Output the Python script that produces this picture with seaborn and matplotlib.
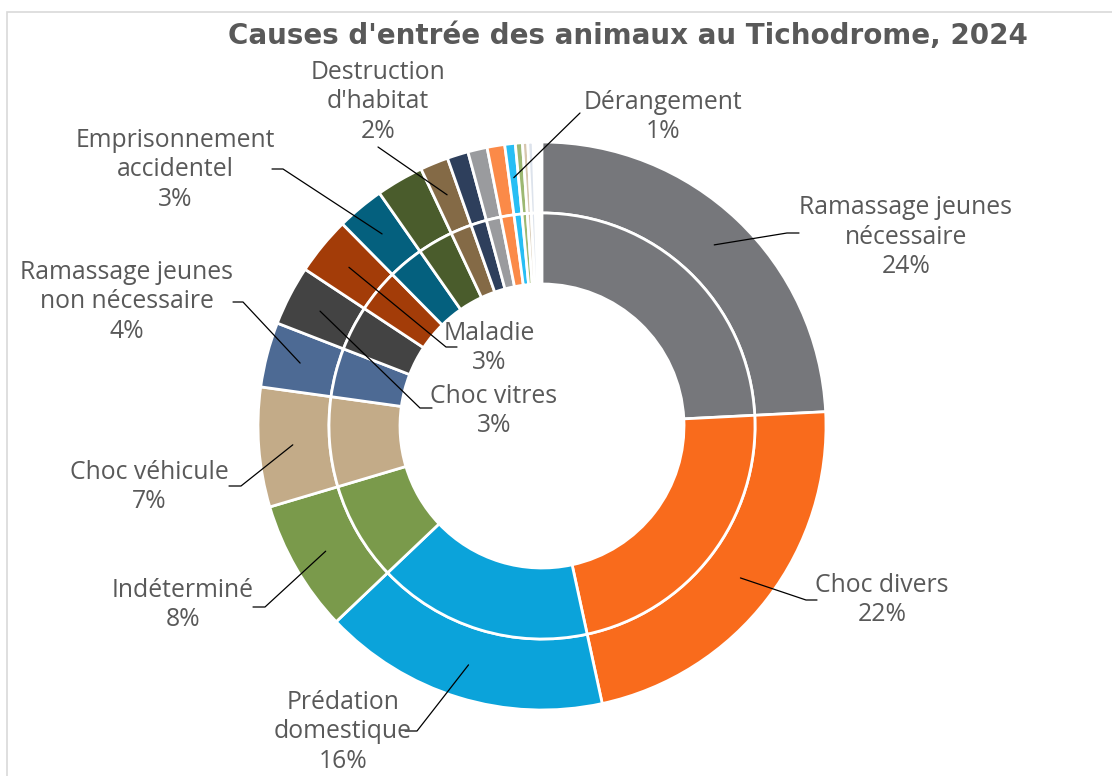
import numpy as np
import matplotlib.pyplot as plt
import seaborn as sns
from matplotlib.patches import Rectangle

# ================= data =================
causes = [
    "Ramassage jeunes\nnécessaire", "Choc divers", "Prédation\ndomestique", "Indéterminé",
    "Choc véhicule", "Ramassage jeunes\nnon nécessaire", "Choc vitres", "Maladie",
    "Emprisonnement\naccidentel", "Autre 1", "Destruction\nd'habitat", "Autre 2",
    "Autre 3", "Autre 4", "Dérangement", "Autre 5", "Autre 6", "Autre 7",
]
# part des entrées (%)
parts = [24.2, 22.4, 16.3, 7.5, 6.8, 3.7, 3.4, 3.3, 2.7, 2.7, 1.6, 1.2, 1.1, 1.0, 0.6, 0.4, 0.3, 0.3]
colors = [
    "#76777B", "#F96B1C", "#0BA3DA", "#7A9A4B", "#C3AB88", "#4D6A94",
    "#434343", "#A33C08", "#04607E", "#4A5C2C", "#846A46", "#2E3F5C",
    "#9A9B9E", "#FB8A48", "#27BEF4", "#9DB872", "#D6C6AE", "#DDE3EC",
]
labelled = ["Ramassage jeunes\nnécessaire", "Choc divers", "Prédation\ndomestique", "Indéterminé",
            "Choc véhicule", "Ramassage jeunes\nnon nécessaire", "Choc vitres", "Maladie",
            "Emprisonnement\naccidentel", "Destruction\nd'habitat", "Dérangement"]

# ================= layout (pixels) =================
W, H = 1112, 776
CX, CY, R = 542, 426, 284

# label centre, elbow of leader, end of leader
label_layout = {
    "Ramassage jeunes\nnécessaire": ((906, 237), (787, 233), (799, 233)),
    "Choc divers": ((882, 600), (806, 600), (817, 600)),
    "Prédation\ndomestique": ((343, 732), (417, 731), (405, 731)),
    "Indéterminé": ((183, 605), (265, 607), (253, 607)),
    "Choc véhicule": ((149, 487), (241, 486), (229, 486)),
    "Ramassage jeunes\nnon nécessaire": ((127, 302), (243, 302), (233, 302)),
    "Choc vitres": ((494, 411), (420, 408), (432, 408)),
    "Maladie": ((489, 348), (446, 347), (457, 347)),
    "Emprisonnement\naccidentel": ((175, 170), (283, 169), (272, 169)),
    "Destruction\nd'habitat": ((378, 102), (378, 147), (378, 147)),
    "Dérangement": ((663, 117), (580, 113), (580, 113)),
}


def to_data(p):
    return (p[0] - CX) / R, (CY - p[1]) / R


sns.set_theme(style="white")
plt.rcParams['font.family'] = ['Open Sans', 'DejaVu Sans']

fig = plt.figure(figsize=(W / 100, H / 100), dpi=100)
ax = fig.add_axes([0, 0, 1, 1])

fracs = np.array(parts) / 100
wp = dict(width=0.25, edgecolor="white", linewidth=2)
outer, _ = ax.pie(fracs, radius=1.0, colors=colors, startangle=90, counterclock=False,
                  normalize=False, wedgeprops=wp)
ax.pie(fracs, radius=0.75, colors=colors, startangle=90, counterclock=False,
       normalize=False, wedgeprops=wp)

ax.set_xlim(-CX / R, (W - CX) / R)
ax.set_ylim(-(H - CY) / R, CY / R)
ax.axis("off")

# labels + leader lines
for name, wedge, v in zip(causes, outer, parts):
    if name not in labelled:
        continue
    centre, elbow, end = label_layout[name]
    mid = np.deg2rad((wedge.theta1 + wedge.theta2) / 2)
    anchor = (0.88 * np.cos(mid), 0.88 * np.sin(mid))
    e1, e2 = to_data(elbow), to_data(end)
    ax.plot([anchor[0], e1[0], e2[0]], [anchor[1], e1[1], e2[1]], color="black", lw=0.9)
    tx, ty = to_data(centre)
    ax.text(tx, ty, f"{name}\n{round(v)}%", ha="center", va="center", fontsize=17.8,
            color="#595959", linespacing=1.22)

fig.text(628 / W, 1 - 36 / H, "Causes d'entrée des animaux au Tichodrome, 2024",
         ha="center", va="center", fontsize=20, fontweight="bold", color="#595959",
         family="DejaVu Sans")

fig.patches.append(Rectangle((7 / W, -0.1), 1.2, 1.1 - 12 / H, transform=fig.transFigure,
                             fill=False, edgecolor="#D9D9D9", lw=1.2))

fig.savefig("out.png", dpi=100)
